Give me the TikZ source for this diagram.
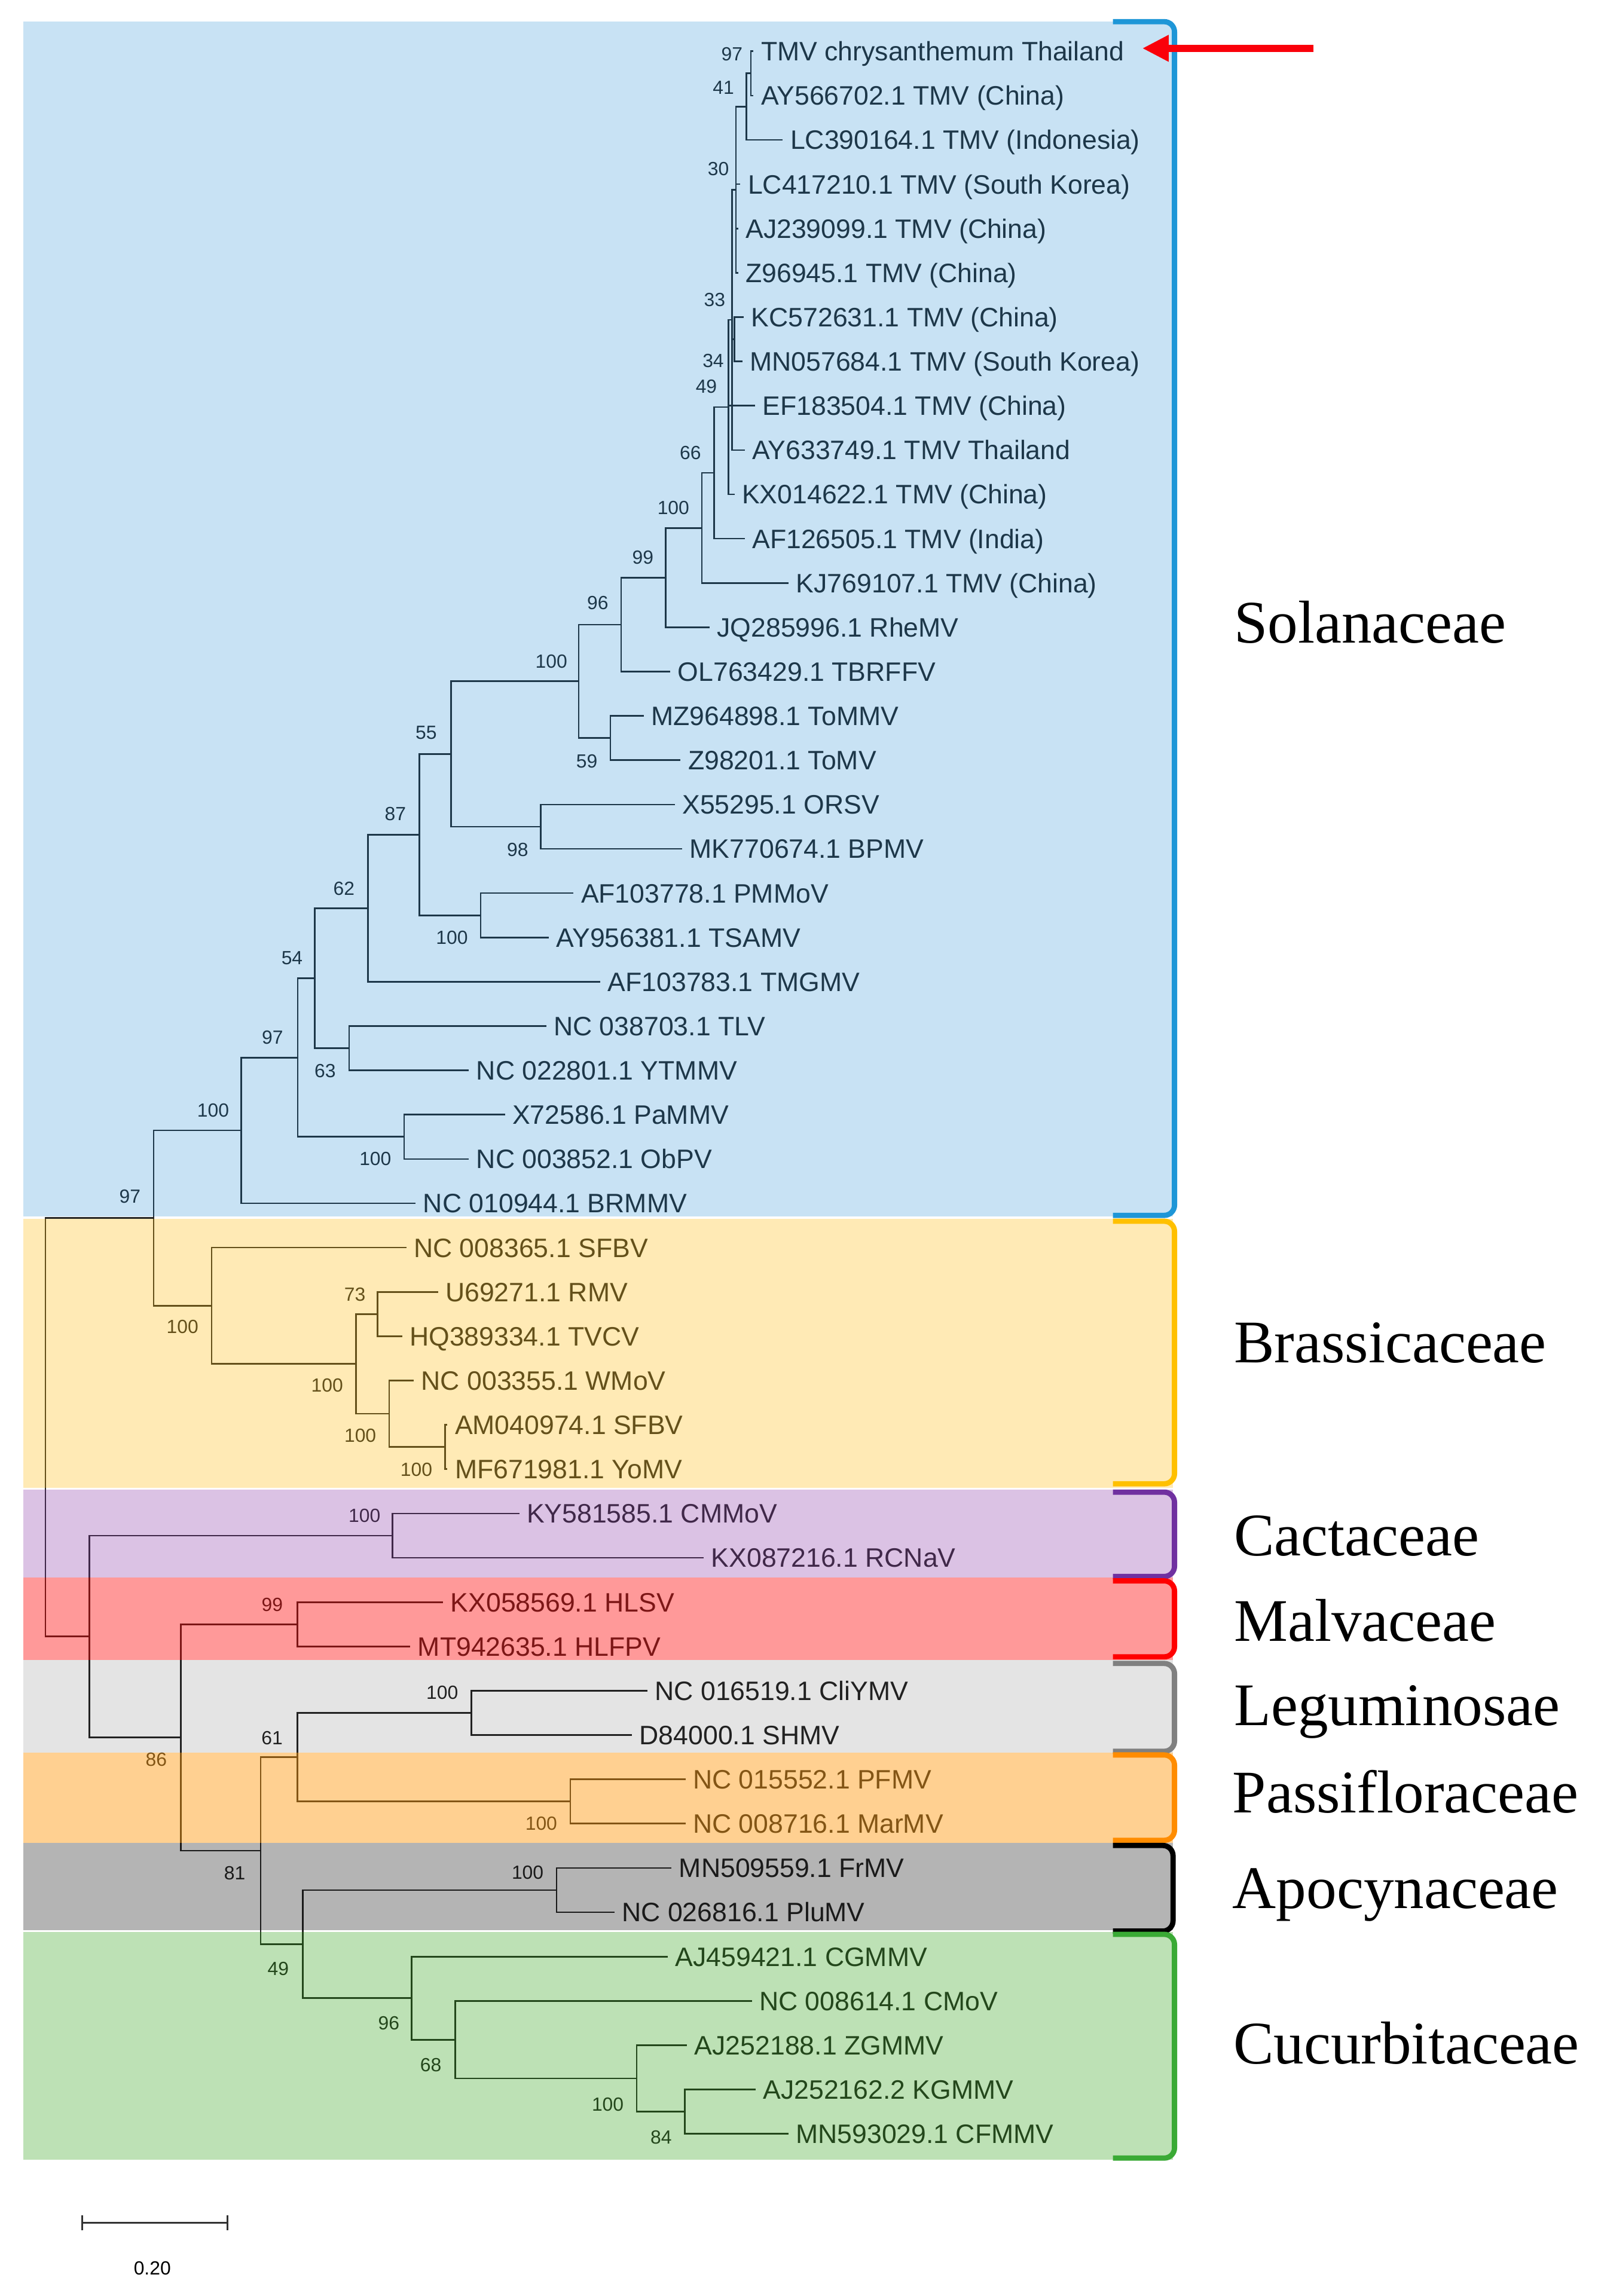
\documentclass[tikz,border=0pt]{standalone}
\usepackage{fontspec}
\setmainfont{Liberation Sans}
\newfontfamily\famfont{Liberation Serif}
\usetikzlibrary{arrows.meta}
\definecolor{treeink}{RGB}{38,38,38}
\definecolor{ovBlue}{RGB}{0,121,204}
\definecolor{ovYellow}{RGB}{255,186,0}
\definecolor{ovPurple}{RGB}{131,48,162}
\definecolor{ovRed}{RGB}{255,0,0}
\definecolor{ovGrey}{RGB}{0,0,0}
\definecolor{ovOrange}{RGB}{255,148,0}
\definecolor{ovDark}{RGB}{0,0,0}
\definecolor{ovGreen}{RGB}{31,152,3}
\definecolor{brBlue}{RGB}{30,150,215}
\definecolor{brYellow}{RGB}{255,192,0}
\definecolor{brPurple}{RGB}{112,48,160}
\definecolor{brRed}{RGB}{255,0,0}
\definecolor{brGrey}{RGB}{128,128,128}
\definecolor{brOrange}{RGB}{255,140,0}
\definecolor{brBlack}{RGB}{0,0,0}
\definecolor{brGreen}{RGB}{58,170,53}
\definecolor{arrowred}{RGB}{250,0,10}
\definecolor{scaleink}{RGB}{50,50,50}
\tikzset{
  br/.style={draw=treeink, line width=1.1pt, line cap=rect},
  leaf/.style={anchor=west, inner xsep=5.5pt, inner ysep=0pt, text height=13pt, text depth=0pt,
    font=\fontsize{18.2}{20}\selectfont, text=treeink},
  bs/.style={inner sep=0pt, text height=9.3pt, text depth=0pt, font=\fontsize{13}{14}\selectfont, text=treeink},
  fam/.style={anchor=base west, inner sep=0pt, font=\famfont\fontsize{41.3}{44}\selectfont, text=black},
  bracket/.style={draw=#1, line width=3.6pt, rounded corners=7pt},
}
\begin{document}
\begin{tikzpicture}[x=1pt,y=-1pt]
\fill[white] (0,0) rectangle (1091,1568);
\useasboundingbox (0,0) rectangle (1091,1568);

% ---------- leaves ----------
\foreach \x/\lbl [count=\i] in {
 514/TMV chrysanthemum Thailand,
 514/AY566702.1 TMV (China),
 534/LC390164.1 TMV (Indonesia),
 505/LC417210.1 TMV (South Korea),
 503.5/AJ239099.1 TMV (China),
 503.5/Z96945.1 TMV (China),
 507.4/KC572631.1 TMV (China),
 506.4/MN057684.1 TMV (South Korea),
 515/EF183504.1 TMV (China),
 508/AY633749.1 TMV Thailand,
 501/KX014622.1 TMV (China),
 508/AF126505.1 TMV (India),
 538/KJ769107.1 TMV (China),
 484/JQ285996.1 RheMV,
 457.2/OL763429.1 TBRFFV,
 439/MZ964898.1 ToMMV,
 464.2/Z98201.1 ToMV,
 460.2/X55295.1 ORSV,
 465.3/MK770674.1 BPMV,
 391.1/AF103778.1 PMMoV,
 374.3/AY956381.1 TSAMV,
 409.4/AF103783.1 TMGMV,
 372.4/NC 038703.1 TLV,
 319.6/NC 022801.1 YTMMV,
 344.2/X72586.1 PaMMV,
 319.6/NC 003852.1 ObPV,
 283.3/NC 010944.1 BRMMV,
 276.9/NC 008365.1 SFBV,
 298.5/U69271.1 RMV,
 274/HQ389334.1 TVCV,
 282/NC 003355.1 WMoV,
 305/AM040974.1 SFBV,
 305/MF671981.1 YoMV,
 354/KY581585.1 CMMoV,
 480/KX087216.1 RCNaV,
 302/KX058569.1 HLSV,
 279.6/MT942635.1 HLFPV,
 441.5/NC 016519.1 CliYMV,
 431/D84000.1 SHMV,
 467.5/NC 015552.1 PFMV,
 467.5/NC 008716.1 MarMV,
 458/MN509559.1 FrMV,
 419/NC 026816.1 PluMV,
 455.5/AJ459421.1 CGMMV,
 512.8/NC 008614.1 CMoV,
 468.6/AJ252188.1 ZGMMV,
 515.4/AJ252162.2 KGMMV,
 537.8/MN593029.1 CFMMV}
  \node[leaf] (L\i) at (\x,{35+(\i-1)*30.26}) {\lbl};

% ---------- internal nodes ----------
\coordinate (A97) at (512.7,50.13);
\coordinate (A41) at (509.7,72.83);
\coordinate (A30) at (502.5,129.57);
\coordinate (A34) at (501.5,231.69);
\coordinate (A33) at (499.9,218.46);
\coordinate (A49) at (497.5,278.03);
\coordinate (A66) at (487.6,322.95);
\coordinate (A100a) at (479.2,360.54);
\coordinate (A99) at (454.5,394.46);
\coordinate (A96) at (424.1,426.55);
\coordinate (A59) at (416.8,504.03);
\coordinate (A100b) at (395.2,465.29);
\coordinate (A98) at (369.2,564.55);
\coordinate (A55) at (307.9,514.92);
\coordinate (A100c) at (328.2,625.07);
\coordinate (A87) at (286.4,570.00);
\coordinate (A62) at (251.3,620.23);
\coordinate (A63) at (238.4,715.85);
\coordinate (A54) at (215,668.04);
\coordinate (A100d) at (275.9,776.37);
\coordinate (A97s) at (203.3,722.21);
\coordinate (A100s) at (164.8,771.99);
\coordinate (B100e) at (303.9,988.19);
\coordinate (B100f) at (265.7,965.50);
\coordinate (B73) at (257.9,897.41);
\coordinate (B100g) at (243,931.46);
\coordinate (B100) at (144.5,891.74);
\coordinate (R97) at (104.9,831.87);
\coordinate (C100) at (268,1048.71);
\coordinate (M99) at (203,1109.23);
\coordinate (G100) at (321.8,1169.75);
\coordinate (P100) at (389.4,1230.27);
\coordinate (N61) at (203,1200.01);
\coordinate (K100) at (380,1290.79);
\coordinate (U84) at (467.5,1442.09);
\coordinate (U100) at (434.7,1419.40);
\coordinate (U68) at (310.8,1392.92);
\coordinate (U96) at (281,1364.55);
\coordinate (N49) at (206.7,1327.67);
\coordinate (N81) at (178,1263.84);
\coordinate (N86) at (123.4,1186.54);
\coordinate (NB) at (60.9,1117.63);
\coordinate (Root) at (31,974.75);

% ---------- branches ----------
\foreach \p/\c in {
 A97/L1.west, A97/L2.west,
 A41/A97, A41/L3.west,
 A30/A41, A30/L4.west, A30/L5.west, A30/L6.west,
 A34/L7.west, A34/L8.west,
 A33/A30, A33/A34, A33/L10.west,
 A49/A33, A49/L9.west, A49/L11.west,
 A66/A49, A66/L12.west,
 A100a/A66, A100a/L13.west,
 A99/A100a, A99/L14.west,
 A96/A99, A96/L15.west,
 A59/L16.west, A59/L17.west,
 A100b/A96, A100b/A59,
 A98/L18.west, A98/L19.west,
 A55/A100b, A55/A98,
 A100c/L20.west, A100c/L21.west,
 A87/A55, A87/A100c,
 A62/A87, A62/L22.west,
 A63/L23.west, A63/L24.west,
 A54/A62, A54/A63,
 A100d/L25.west, A100d/L26.west,
 A97s/A54, A97s/A100d,
 A100s/A97s, A100s/L27.west,
 B100e/L32.west, B100e/L33.west,
 B100f/L31.west, B100f/B100e,
 B73/L29.west, B73/L30.west,
 B100g/B73, B100g/B100f,
 B100/L28.west, B100/B100g,
 R97/A100s, R97/B100,
 C100/L34.west, C100/L35.west,
 M99/L36.west, M99/L37.west,
 G100/L38.west, G100/L39.west,
 P100/L40.west, P100/L41.west,
 N61/G100, N61/P100,
 K100/L42.west, K100/L43.west,
 U84/L47.west, U84/L48.west,
 U100/L46.west, U100/U84,
 U68/L45.west, U68/U100,
 U96/L44.west, U96/U68,
 N49/K100, N49/U96,
 N81/N61, N81/N49,
 N86/M99, N86/N81,
 NB/C100, NB/N86,
 Root/R97, Root/NB}
  \draw[br] (\p) |- (\c);

% ---------- bootstrap values ----------
\foreach \nm/\x/\y/\v in {
 a1/499.8/36.8/97, a2/494/59.6/41, a3/490.5/115/30, a4/488/204.5/33,
 a5/487/246.4/34, a6/482.3/263.7/49, a7/471.4/309/66, a8/459.8/346.8/100,
 a9/439/380.4/99, a10/408.2/411.4/96, a11/376.5/451.4/100, a12/400.7/519.9/59,
 a13/291/500/55, a14/353.5/580/98, a15/270/555.6/87, a16/308.6/640/100,
 a17/234.9/606.6/62, a18/199.4/654/54, a19/222/731/63, a20/186.1/708.3/97,
 a21/256.3/791/100, a22/145.5/758/100, a23/88.7/817/97,
 b1/124.6/905.8/100, b2/223.4/946/100, b3/242.3/884/73, b4/246/980.2/100,
 b5/284.3/1003.5/100,
 c1/248.9/1035/100, c2/185.9/1095.6/99, c3/106.7/1201.6/86, c4/185.8/1186.6/61,
 c5/302/1155.6/100, c6/369.6/1245.3/100, c7/160.3/1279/81, c8/190/1344.4/49,
 c9/360.3/1278.6/100, c10/265.5/1381.5/96, c11/294.2/1410.2/68,
 c12/415/1437/100, c13/451.4/1459.6/84}
  \node[bs] (bs\nm) at (\x,\y) {\v};

% ---------- coloured clade bands (translucent overlay) ----------
\fill[ovBlue, fill opacity=0.216] (16,14.8) rectangle (801,830.9);
\fill[ovYellow, fill opacity=0.29] (16,832.2) rectangle (801,1016);
\fill[ovPurple, fill opacity=0.29] (16,1017.3) rectangle (801,1077.5);
\fill[ovRed, fill opacity=0.40] (16,1077.5) rectangle (801,1133.8);
\fill[ovGrey, fill opacity=0.106] (16,1133.8) rectangle (801,1197);
\fill[ovOrange, fill opacity=0.431] (16,1197) rectangle (801,1258.6);
\fill[ovDark, fill opacity=0.294] (16,1258.6) rectangle (801,1318);
\fill[ovGreen, fill opacity=0.29] (16,1319.5) rectangle (801,1475);

% ---------- brackets ----------
\draw[bracket=brBlue]   (760,14.8)   -- (802,14.8)   -- (802,830)    -- (760,830);
\draw[bracket=brYellow] (760,834)    -- (802,834)    -- (802,1013.3) -- (760,1013.3);
\draw[bracket=brPurple] (760,1019)   -- (802,1019)   -- (802,1076.6) -- (760,1076.6);
\draw[bracket=brRed]    (760,1079.6) -- (802,1079.6) -- (802,1131.5) -- (760,1131.5);
\draw[bracket=brGrey]   (760,1136)   -- (802,1136)   -- (802,1196)   -- (760,1196);
\draw[bracket=brOrange] (760,1198.5) -- (802,1198.5) -- (802,1256.8) -- (760,1256.8);
\draw[bracket=brBlack]  (760,1260.3) -- (801,1260.3) -- (801,1318.8) -- (760,1318.8);
\draw[bracket=brGreen]  (760,1321)   -- (802,1321)   -- (802,1473.8) -- (760,1473.8);

% ---------- family labels ----------
\node[fam] (fSol) at (842.5,439) {Solanaceae};
\node[fam] (fBra) at (842.5,930.5) {Brassicaceae};
\node[fam] (fCac) at (842.5,1062.5) {Cactaceae};
\node[fam] (fMal) at (842.5,1120.8) {Malvaceae};
\node[fam] (fLeg) at (842.5,1178.4) {Leguminosae};
\node[fam] (fPas) at (841.5,1237.8) {Passifloraceae};
\node[fam] (fApo) at (841.5,1303.3) {Apocynaceae};
\node[fam] (fCuc) at (842,1409.4) {Cucurbitaceae};

% ---------- red arrow ----------
\coordinate (arrTail) at (897,33);
\coordinate (arrHead) at (780,33);
\draw[arrowred, line width=4.7pt, -{Triangle[length=18pt,width=17pt]}] (arrTail) -- (arrHead);

% ---------- scale bar ----------
\coordinate (sbL) at (55.7,1518);
\coordinate (sbR) at (156,1518);
\draw[scaleink, line width=1.2pt, {Bar[width=10.5pt]}-{Bar[width=10.5pt]}] (sbL) -- (sbR);
\node[bs, text=black] (sbT) at (104,1549) {0.20};
\end{tikzpicture}
\end{document}
